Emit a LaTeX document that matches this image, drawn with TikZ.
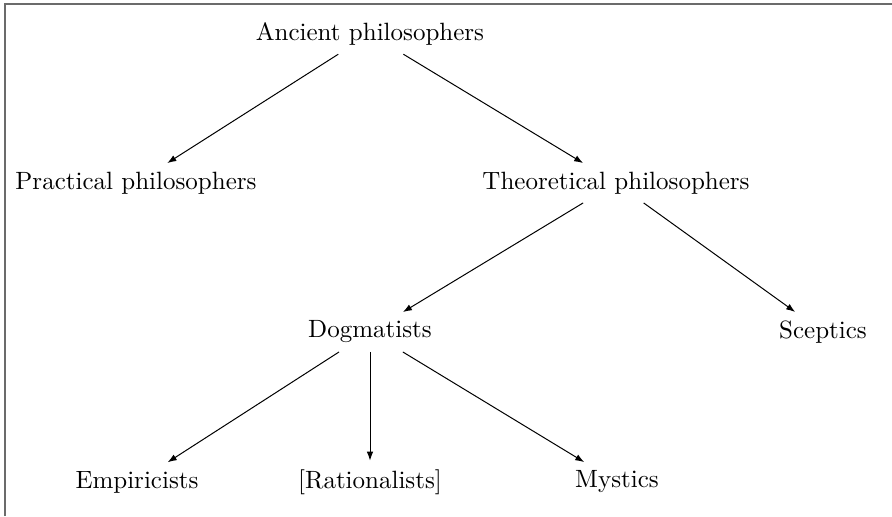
\documentclass[tikz,border=0pt]{standalone}
\usetikzlibrary{arrows.meta}
\definecolor{framegray}{HTML}{6B6B6B}
\begin{document}
\begin{tikzpicture}[x=0.4pt,y=-0.4pt,
  lbl/.style={inner sep=3.33pt},
  edge/.style={-{Latex[length=3.6pt,width=2.6pt]},line width=0.4pt}]
\useasboundingbox (0,0) rectangle (892,516);
\draw[framegray,line width=0.8pt] (5,516) -- (5,4) -- (892,4);
\node[lbl] (anc) at (370,34) {Ancient philosophers};
\node[lbl] (pra) at (136,183) {Practical philosophers};
\node[lbl] (the) at (616,183) {Theoretical philosophers};
\node[lbl] (dog) at (370,332) {Dogmatists};
\node[lbl] (sce) at (823,332) {Sceptics};
\node[lbl] (emp) at (137,482) {Empiricists};
\node[lbl] (rat) at (370,482) {[Rationalists]};
\node[lbl] (mys) at (617,482) {Mystics};
\draw[edge] (anc) -- (pra);
\draw[edge] (anc) -- (the);
\draw[edge] (the) -- (dog);
\draw[edge] (the) -- (sce);
\draw[edge] (dog) -- (emp);
\draw[edge] (dog) -- (rat);
\draw[edge] (dog) -- (mys);
\end{tikzpicture}
\end{document}
